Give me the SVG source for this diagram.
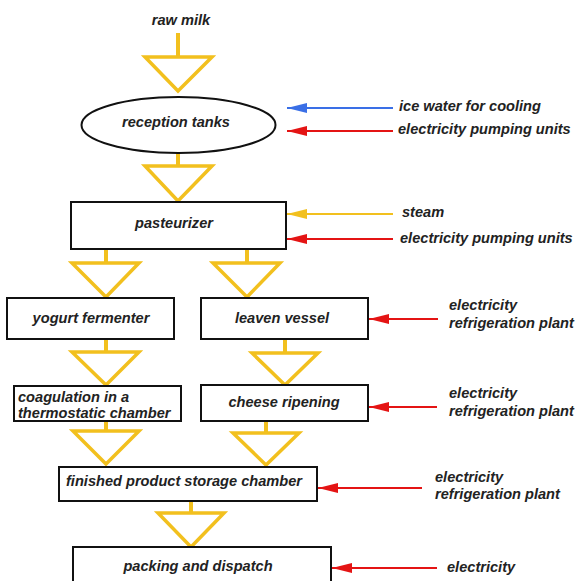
<svg xmlns="http://www.w3.org/2000/svg" width="575" height="581" viewBox="0 0 575 581">
<style>
text{font-family:"Liberation Sans",Arial,sans-serif;font-size:14.6px;font-weight:bold;font-style:italic;fill:#222}
.c{text-anchor:middle}
.box{fill:#fff;stroke:#111;stroke-width:2}
.stem{stroke:#f2c01e;stroke-width:4;fill:none}
.tri{stroke:#f2c01e;stroke-width:3.5;fill:none;stroke-linejoin:miter}
.blue{stroke:#3a6fe6;stroke-width:2;marker-end:url(#mb)}
.red{stroke:#e41414;stroke-width:2;marker-end:url(#mr)}
.yel{stroke:#f2c01e;stroke-width:2;marker-end:url(#my)}
</style>
<defs>
<marker id="mb" markerUnits="userSpaceOnUse" markerWidth="20" markerHeight="10" refX="20" refY="5" orient="auto"><path d="M0,0 L20,5 L0,10 z" fill="#3a6fe6"/></marker>
<marker id="mr" markerUnits="userSpaceOnUse" markerWidth="20" markerHeight="10" refX="20" refY="5" orient="auto"><path d="M0,0 L20,5 L0,10 z" fill="#e41414"/></marker>
<marker id="my" markerUnits="userSpaceOnUse" markerWidth="20" markerHeight="10" refX="20" refY="5" orient="auto"><path d="M0,0 L20,5 L0,10 z" fill="#f2c01e"/></marker>
</defs>
<rect width="575" height="581" fill="#fff"/>

<g id="connectors">
<line class="stem" x1="178" y1="33" x2="178" y2="58"/>
<polygon class="tri" points="145,57 212,57 178,91"/>
<line class="stem" x1="178" y1="153" x2="178" y2="167"/>
<polygon class="tri" points="145,166 212,166 178,201"/>
<line class="stem" x1="106" y1="249" x2="106" y2="264"/>
<polygon class="tri" points="72,263 139,263 106,297"/>
<line class="stem" x1="247" y1="249" x2="247" y2="264"/>
<polygon class="tri" points="213,263 280,263 247,297"/>
<line class="stem" x1="106" y1="339" x2="106" y2="353"/>
<polygon class="tri" points="72,352 139,352 106,385"/>
<line class="stem" x1="285" y1="339" x2="285" y2="354"/>
<polygon class="tri" points="252,353 318,353 285,385"/>
<line class="stem" x1="106" y1="421" x2="106" y2="432"/>
<polygon class="tri" points="73,431 139,431 106,464"/>
<line class="stem" x1="266" y1="421" x2="266" y2="434"/>
<polygon class="tri" points="233,433 299,433 266,465"/>
<line class="stem" x1="191" y1="501" x2="191" y2="514"/>
<polygon class="tri" points="158,513 224,513 191,547"/>

<line class="blue" x1="393" y1="108" x2="287" y2="108"/>
<line class="red" x1="393" y1="131" x2="287" y2="131"/>
<line class="yel" x1="393" y1="214" x2="287" y2="214"/>
<line class="red" x1="393" y1="239" x2="287" y2="239"/>
<line class="red" x1="438" y1="319" x2="369" y2="319"/>
<line class="red" x1="437" y1="407" x2="369" y2="407"/>
<line class="red" x1="422" y1="488" x2="318" y2="488"/>
<line class="red" x1="437" y1="568" x2="332" y2="568"/>
</g>

<g id="raw-milk"><text class="c" x="181" y="25">raw milk</text></g>
<g id="reception-tanks">
<ellipse cx="178.5" cy="125" rx="97" ry="28" fill="#fff" stroke="#111" stroke-width="2"/>
<text class="c" x="176" y="127">reception tanks</text>
</g>
<g id="pasteurizer">
<rect class="box" x="71" y="202" width="215" height="47"/>
<text class="c" x="174" y="228">pasteurizer</text>
</g>
<g id="yogurt-fermenter">
<rect class="box" x="7" y="298" width="167" height="41"/>
<text class="c" x="91" y="323">yogurt fermenter</text>
</g>
<g id="leaven-vessel">
<rect class="box" x="201" y="298" width="167" height="41"/>
<text class="c" x="282" y="323">leaven vessel</text>
</g>
<g id="coagulation">
<rect class="box" x="14" y="386" width="167" height="35"/>
<text x="18" y="402">coagulation in a</text>
<text x="18" y="418">thermostatic chamber</text>
</g>
<g id="cheese-ripening">
<rect class="box" x="201" y="385" width="167" height="36"/>
<text class="c" x="284" y="407">cheese ripening</text>
</g>
<g id="finished-storage">
<rect class="box" x="59" y="467" width="258" height="34"/>
<text class="c" x="184" y="486">finished product storage chamber</text>
</g>
<g id="packing">
<rect class="box" x="73" y="547" width="258" height="40"/>
<text class="c" x="198" y="571">packing and dispatch</text>
</g>

<g id="inputs">
<text x="399" y="111">ice water for cooling</text>
<text x="398" y="134">electricity pumping units</text>
<text x="402" y="217">steam</text>
<text x="400" y="243">electricity pumping units</text>
<text x="449" y="310">electricity</text>
<text x="449" y="328">refrigeration plant</text>
<text x="449" y="398">electricity</text>
<text x="449" y="416">refrigeration plant</text>
<text x="435" y="482">electricity</text>
<text x="435" y="499">refrigeration plant</text>
<text x="447" y="572">electricity</text>
</g>
</svg>
